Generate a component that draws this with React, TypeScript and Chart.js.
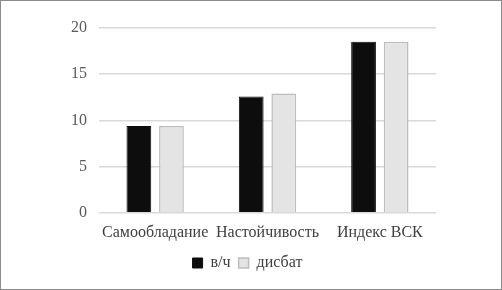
import React, { useEffect, useRef } from "react";
import { Chart, registerables } from "chart.js";

Chart.register(...registerables);

const categories = ["Самообладание", "Настойчивость", "Индекс ВСК"];
const seriesNames = ["в/ч", "дисбат"];
const vchValues = [9.4, 12.6, 18.5];
const disbatValues = [9.4, 12.9, 18.5];
const yTicks = [0, 5, 10, 15, 20];

export default function App() {
  const ref = useRef<HTMLCanvasElement>(null);
  useEffect(() => {
    document.body.style.margin = "0";
    const ctx = ref.current!.getContext("2d")!;
    const font = { family: "'Liberation Serif', 'Times New Roman', serif", size: 16 };
    const chart = new Chart(ctx, {
      type: "bar",
      data: {
        labels: categories,
        datasets: [
          {
            label: seriesNames[0],
            data: vchValues,
            backgroundColor: "#0d0d0d",
            borderColor: "#0d0d0d",
            borderWidth: 1,
            categoryPercentage: 0.58,
            barPercentage: 0.76,
          },
          {
            label: seriesNames[1],
            data: disbatValues,
            backgroundColor: "#e4e4e4",
            borderColor: "#bdbdbd",
            borderWidth: 1.5,
            categoryPercentage: 0.58,
            barPercentage: 0.76,
          },
        ],
      },
      options: {
        animation: false,
        responsive: false,
        maintainAspectRatio: false,
        layout: { padding: { left: 58, right: 65, top: 27, bottom: 8 } },
        plugins: {
          tooltip: { enabled: false },
          legend: {
            position: "bottom",
            labels: {
              font,
              color: "#404040",
              boxWidth: 10,
              boxHeight: 10,
              padding: 8,
            },
          },
        },
        scales: {
          x: {
            grid: { display: false },
            border: { display: false },
            afterFit: (axis: any) => {
              axis.height += 3;
            },
            ticks: { font, color: "#404040", padding: 2, maxRotation: 0, autoSkip: false },
          },
          y: {
            min: 0,
            max: 20,
            afterBuildTicks: (axis: any) => {
              axis.ticks = yTicks.map((v) => ({ value: v }));
            },
            grid: { color: "#d9d9d9", lineWidth: 1.5, drawTicks: false },
            border: { display: false },
            ticks: { font, color: "#595959", padding: 12 },
          },
        },
      },
    });
    return () => chart.destroy();
  }, []);
  return (
    <div
      style={{
        position: "fixed",
        left: 0,
        top: 0,
        width: 502,
        height: 290,
        border: "1px solid #8c8c8c",
        boxSizing: "border-box",
        background: "#fff",
      }}
    >
      <canvas ref={ref} width={500} height={288} style={{ display: "block" }} />
    </div>
  );
}
